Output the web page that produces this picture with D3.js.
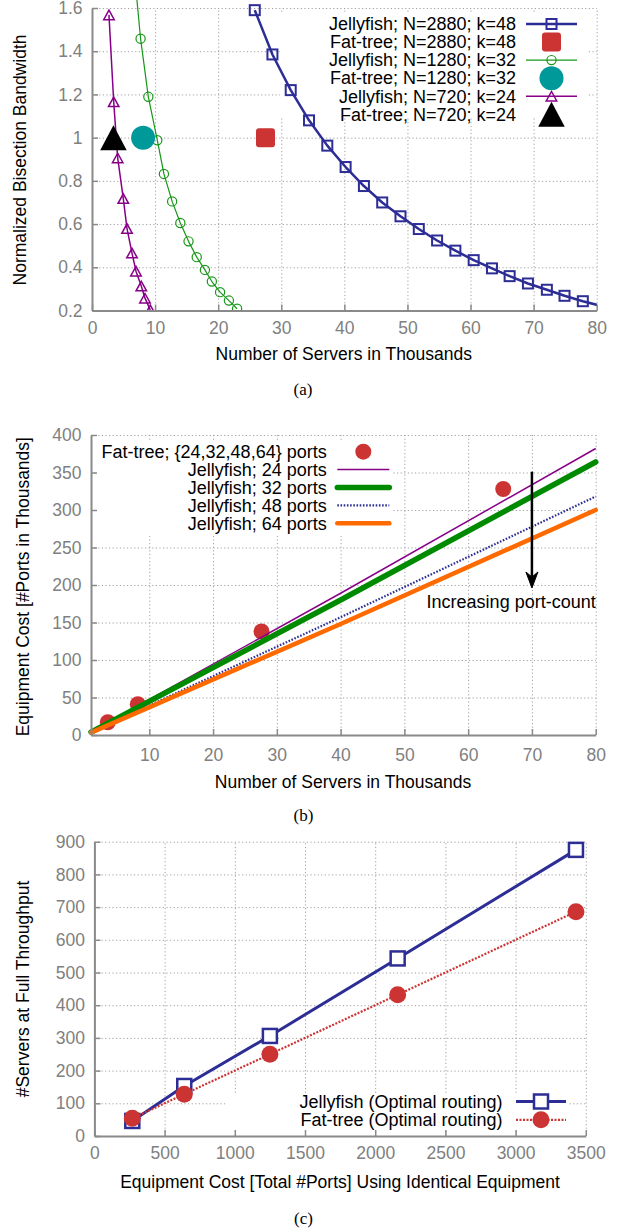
<!DOCTYPE html>
<html>
<head>
<meta charset="utf-8">
<script src="https://cdn.jsdelivr.net/npm/d3@7"></script>
<style>
body { margin: 0; background: #fff; }
svg { display: block; font-family: "Liberation Sans", Arial, Helvetica, sans-serif; }
.grid line { stroke: #a0a0a0; stroke-width: 1; stroke-dasharray: 1.2,2.4; }
.axis .domain { stroke: #8a8a8a; stroke-width: 2; }
.axis line { stroke: #8a8a8a; stroke-width: 1.5; }
.axis text { fill: #808080; font-size: 17.5px; font-family: "Liberation Sans", Arial, sans-serif; }
.title { fill: #000; font-size: 17.5px; }
.legend { fill: #000; font-size: 18px; }
.caption { font-family: "Liberation Serif", "Times New Roman", serif; font-size: 17px; }
</style>
</head>
<body>
<script>
// ---------- (a) normalized bisection bandwidth ----------
var aXTicks = [0, 10, 20, 30, 40, 50, 60, 70, 80];
var aYTicks = [0.2, 0.4, 0.6, 0.8, 1, 1.2, 1.4, 1.6];
var aLabels = ["Jellyfish; N=2880; k=48", "Fat-tree; N=2880; k=48",
               "Jellyfish; N=1280; k=32", "Fat-tree; N=1280; k=32",
               "Jellyfish; N=720; k=24", "Fat-tree; N=720; k=24"];
var aJf48X = [25.8, 28.6, 31.5, 34.4, 37.3, 40.2, 43.1, 46.0, 48.9, 51.8, 54.7, 57.6, 60.5, 63.4, 66.2, 69.1, 72.1, 74.9, 77.8, 80.7];
var aJf48Y = [1.59, 1.385, 1.22, 1.08, 0.963, 0.864, 0.776, 0.70, 0.636, 0.577, 0.524, 0.477, 0.433, 0.395, 0.359, 0.325, 0.296, 0.268, 0.243, 0.221];
var aJf32X = [6.4, 7.7, 8.93, 10.35, 11.4, 12.7, 14.0, 15.3, 16.6, 17.9, 19.0, 20.3, 21.7, 23.0];
var aJf32Y = [1.86, 1.458, 1.189, 0.988, 0.832, 0.705, 0.605, 0.52, 0.447, 0.388, 0.334, 0.285, 0.246, 0.208];
var aJf24X = [2.69, 3.44, 4.07, 4.96, 5.55, 6.34, 6.97, 7.81, 8.4, 9.24];
var aJf24Y = [1.568, 1.166, 0.906, 0.718, 0.579, 0.466, 0.382, 0.313, 0.257, 0.203];
var aFtX = [27.5, 8.1, 3.4];   // k=48, k=32, k=24
var aFtY = [1, 1, 1];

// ---------- (b) equipment cost ----------
var bXTicks = [10, 20, 30, 40, 50, 60, 70, 80];
var bYTicks = [0, 50, 100, 150, 200, 250, 300, 350, 400];
var bLabels = ["Fat-tree; {24,32,48,64} ports", "Jellyfish; 24 ports", "Jellyfish; 32 ports",
               "Jellyfish; 48 ports", "Jellyfish; 64 ports"];
var bFtX = [3.5, 8.2, 27.6, 65.5];
var bFtY = [17, 41, 138, 328];
var bJfX = [0.86, 40, 80];
var bJf24 = [4.1, 189, 382];
var bJf32 = [3.9, 180, 364];
var bJf48 = [3.4, 157, 318];
var bJf64 = [3.2, 148, 300];

// ---------- (c) servers at full throughput ----------
var cXTicks = [0, 500, 1000, 1500, 2000, 2500, 3000, 3500];
var cYTicks = [0, 100, 200, 300, 400, 500, 600, 700, 800, 900];
var cLabels = ["Jellyfish (Optimal routing)", "Fat-tree (Optimal routing)"];
var cCost = [270, 640, 1250, 2160, 3430];
var cJf = [46, 153, 306, 543, 875];
var cFt = [54, 128, 250, 432, 686];

var BLUE = "#2d2d96", RED = "#cc3333", GREEN_A = "#179617", TEAL = "#009999",
    PURPLE = "#880088", GREEN_B = "#008a00", ORANGE = "#ff6a00";

var svg = d3.select("body").append("svg")
    .attr("width", 618)
    .attr("height", 1230);

svg.append("rect").attr("width", 618).attr("height", 1230).attr("fill", "#fff");

function tri(cx, cy, w, h) {
    return "M" + (cx - w / 2) + "," + (cy + h / 2) + "L" + (cx + w / 2) + "," + (cy + h / 2) +
        "L" + cx + "," + (cy - h / 2) + "Z";
}

function mark(g, type, cx, cy) {
    if (type == "sqOpen") {
        g.append("rect").attr("x", cx - 5).attr("y", cy - 5).attr("width", 10).attr("height", 10)
            .attr("fill", "none").attr("stroke", BLUE).attr("stroke-width", 2);
    } else if (type == "sqRed") {
        g.append("rect").attr("x", cx - 9.5).attr("y", cy - 9.5).attr("width", 19).attr("height", 19)
            .attr("rx", 3).attr("fill", RED);
    } else if (type == "circOpen") {
        g.append("circle").attr("cx", cx).attr("cy", cy).attr("r", 4.6)
            .attr("fill", "none").attr("stroke", GREEN_A).attr("stroke-width", 1.2);
    } else if (type == "circTeal") {
        g.append("circle").attr("cx", cx).attr("cy", cy).attr("r", 12).attr("fill", TEAL);
    } else if (type == "triOpen") {
        g.append("path").attr("d", tri(cx, cy, 10.5, 9.5))
            .attr("fill", "none").attr("stroke", PURPLE).attr("stroke-width", 1.5);
    } else if (type == "triBlack") {
        g.append("path").attr("d", tri(cx, cy, 26.5, 25)).attr("fill", "#000");
    } else if (type == "dotRed") {
        g.append("circle").attr("cx", cx).attr("cy", cy).attr("r", 8).attr("fill", RED);
    } else if (type == "sqOpenC") {
        g.append("rect").attr("x", cx - 7).attr("y", cy - 7).attr("width", 14).attr("height", 14)
            .attr("fill", "#fff").attr("stroke", BLUE).attr("stroke-width", 2.5);
    } else if (type == "dotRedC") {
        g.append("circle").attr("cx", cx).attr("cy", cy).attr("r", 8.5).attr("fill", RED);
    }
}

// grid + opaque key box for one panel
function frame(x, y, o) {
    var y0 = y.range()[0], y1 = y.range()[1];
    var x0 = x.range()[0], x1 = x.range()[1];

    svg.append("g").attr("class", "grid")
        .attr("transform", "translate(0," + y0 + ")")
        .call(d3.axisBottom(x).tickValues(o.xGrid).tickSize(-(y0 - y1)).tickFormat(""))
        .call(function(s) { s.select(".domain").remove(); });

    svg.append("g").attr("class", "grid")
        .attr("transform", "translate(" + x0 + ",0)")
        .call(d3.axisLeft(y).tickValues(o.yGrid).tickSize(-(x1 - x0)).tickFormat(""))
        .call(function(s) { s.select(".domain").remove(); });

    if (o.box) {
        svg.append("rect").attr("x", o.box[0]).attr("y", o.box[1])
            .attr("width", o.box[2]).attr("height", o.box[3]).attr("fill", "#fff");
    }
}

function axes(x, y, o) {
    var y0 = y.range()[0], x0 = x.range()[0];
    svg.append("g").attr("class", "axis")
        .attr("transform", "translate(0," + y0 + ")")
        .call(d3.axisBottom(x).tickValues(o.xTicks).tickSizeInner(-6).tickSizeOuter(0)
            .tickPadding(o.xPad).tickFormat(o.xFmt || String));

    svg.append("g").attr("class", "axis")
        .attr("transform", "translate(" + x0 + ",0)")
        .call(d3.axisLeft(y).tickValues(o.yTicks).tickSizeInner(-6).tickSizeOuter(0)
            .tickPadding(9.5).tickFormat(o.yFmt || String));

    svg.append("text").attr("class", "title")
        .attr("x", o.xTitle[0]).attr("y", o.xTitle[1]).attr("dy", "0.35em")
        .attr("text-anchor", "middle").text(o.xTitle[2]);

    svg.append("text").attr("class", "title")
        .attr("transform", "translate(" + o.yTitle[0] + "," + o.yTitle[1] + ") rotate(-90)")
        .attr("dy", "0.35em")
        .attr("text-anchor", "middle").text(o.yTitle[2]);

    svg.append("text").attr("class", "caption")
        .attr("x", o.caption[0]).attr("y", o.caption[1]).attr("dy", "0.35em")
        .attr("text-anchor", "middle").text(o.caption[2]);
}

function series(g, x, y, xs, ys, style, markType) {
    var pts = d3.zip(xs, ys);
    if (style) {
        var p = g.append("path")
            .attr("d", d3.line().x(function(d) { return x(d[0]); }).y(function(d) { return y(d[1]); })(pts))
            .attr("fill", "none")
            .attr("stroke", style.color)
            .attr("stroke-width", style.width)
            .attr("stroke-linejoin", "round");
        if (style.dash) p.attr("stroke-dasharray", style.dash);
        if (style.cap) p.attr("stroke-linecap", style.cap);
    }
    if (markType) {
        var xd = x.domain(), yd = y.domain();
        pts.forEach(function(d) {
            if (d[0] >= xd[0] && d[0] <= xd[1] && d[1] >= yd[0] && d[1] <= yd[1]) {
                mark(g, markType, x(d[0]), y(d[1]));
            }
        });
    }
}

function legendRow(textX, cy, label, sample, style, markType) {
    svg.append("text").attr("class", "legend")
        .attr("x", textX).attr("y", cy).attr("dy", "0.35em")
        .attr("text-anchor", "end").text(label);
    if (style) {
        var l = svg.append("line").attr("x1", sample[0]).attr("x2", sample[1])
            .attr("y1", cy).attr("y2", cy)
            .attr("stroke", style.color).attr("stroke-width", style.width);
        if (style.dash) l.attr("stroke-dasharray", style.dash);
        if (style.cap) l.attr("stroke-linecap", style.cap);
    }
    if (markType) mark(svg, markType, (sample[0] + sample[1]) / 2, cy);
}

// ================= panel (a) =================
var ax = d3.scaleLinear().domain([0, 80]).range([92, 596.7]);
var ay = d3.scaleLinear().domain([0.2, 1.6]).range([310.5, 8]);

frame(ax, ay, { xGrid: aXTicks.slice(1), yGrid: aYTicks.slice(1), box: [280, 12, 307, 106] });

svg.append("clipPath").attr("id", "clipA")
    .append("rect").attr("x", 91).attr("y", 0).attr("width", 506).attr("height", 312);
var ga = svg.append("g").attr("clip-path", "url(#clipA)");

var aStyles = [
    { color: BLUE, width: 2.5 }, null,
    { color: GREEN_A, width: 1.2 }, null,
    { color: PURPLE, width: 1.5 }, null
];
var aMarks = ["sqOpen", "sqRed", "circOpen", "circTeal", "triOpen", "triBlack"];

series(ga, ax, ay, aJf48X, aJf48Y, aStyles[0], aMarks[0]);
series(ga, ax, ay, [aFtX[0]], [aFtY[0]], null, aMarks[1]);
series(ga, ax, ay, aJf32X, aJf32Y, aStyles[2], aMarks[2]);
series(ga, ax, ay, [aFtX[1]], [aFtY[1]], null, aMarks[3]);
series(ga, ax, ay, aJf24X, aJf24Y, aStyles[4], aMarks[4]);
series(ga, ax, ay, [aFtX[2]], [aFtY[2]], null, aMarks[5]);

axes(ax, ay, {
    xTicks: aXTicks, yTicks: aYTicks, xPad: 11,
    xTitle: [343.8, 354, "Number of Servers in Thousands"],
    yTitle: [20.3, 160, "Normalized Bisection Bandwidth"],
    caption: [303, 389, "(a)"]
});

aLabels.forEach(function(lab, i) {
    legendRow(516, 24 + i * 18.06, lab, [526, 577], aStyles[i], aMarks[i]);
});

// ================= panel (b) =================
var bx = d3.scaleLinear().domain([0.86, 80]).range([91, 595.7]);
var by = d3.scaleLinear().domain([0, 400]).range([735, 435]);

frame(bx, by, { xGrid: bXTicks, yGrid: bYTicks.slice(1), box: [96, 440, 296, 96] });

var bStyles = [
    null,
    { color: PURPLE, width: 1.5 },
    { color: GREEN_B, width: 5.5, cap: "round" },
    { color: BLUE, width: 2.2, dash: "1.6,1.6" },
    { color: ORANGE, width: 4.5, cap: "round" }
];
var bMarks = ["dotRed", null, null, null, null];

var gb = svg.append("g");
series(gb, bx, by, bFtX, bFtY, null, "dotRed");
series(gb, bx, by, bJfX, bJf24, bStyles[1], null);
series(gb, bx, by, bJfX, bJf32, bStyles[2], null);
series(gb, bx, by, bJfX, bJf48, bStyles[3], null);
series(gb, bx, by, bJfX, bJf64, bStyles[4], null);

// arrow: increasing port-count
var arrX = bx(70), arrTop = by(351), arrTip = by(196);
gb.append("line").attr("x1", arrX).attr("x2", arrX).attr("y1", arrTop).attr("y2", arrTip - 8)
    .attr("stroke", "#000").attr("stroke-width", 2.5);
gb.append("path")
    .attr("d", "M" + arrX + "," + arrTip + "L" + (arrX - 6) + "," + (arrTip - 16) +
        "L" + arrX + "," + (arrTip - 11) + "L" + (arrX + 6) + "," + (arrTip - 16) + "Z")
    .attr("fill", "#000").attr("stroke", "#000").attr("stroke-width", 1);
svg.append("text").attr("class", "legend")
    .attr("x", bx(80)).attr("y", by(178)).attr("dy", "0.35em")
    .attr("text-anchor", "end").text("Increasing port-count");

axes(bx, by, {
    xTicks: bXTicks, yTicks: bYTicks, xPad: 13.5,
    xTitle: [343, 781.7, "Number of Servers in Thousands"],
    yTitle: [22.5, 586.7, "Equipment Cost [#Ports in Thousands]"],
    caption: [303.5, 815, "(b)"]
});

bLabels.forEach(function(lab, i) {
    legendRow(326.7, 451.7 + i * 17.9, lab, [337.3, 389.3], bStyles[i], bMarks[i]);
});

// ================= panel (c) =================
var cx = d3.scaleLinear().domain([0, 3500]).range([94.4, 585.8]);
var cy = d3.scaleLinear().domain([0, 900]).range([1136, 841.7]);

frame(cx, cy, { xGrid: cXTicks.slice(1), yGrid: cYTicks.slice(1), box: [225, 1093, 343, 38] });

var cStyles = [
    { color: BLUE, width: 3 },
    { color: RED, width: 2.2, dash: "2,1.5" }
];
var cMarks = ["sqOpenC", "dotRedC"];

var gc = svg.append("g");
series(gc, cx, cy, cCost, cJf, cStyles[0], cMarks[0]);
series(gc, cx, cy, cCost, cFt, cStyles[1], cMarks[1]);

axes(cx, cy, {
    xTicks: cXTicks, yTicks: cYTicks, xPad: 11,
    xTitle: [340, 1181.7, "Equipment Cost [Total #Ports] Using Identical Equipment"],
    yTitle: [22.7, 989, "#Servers at Full Throughput"],
    caption: [303.5, 1218, "(c)"]
});

cLabels.forEach(function(lab, i) {
    legendRow(502.5, 1101.5 + i * 18.3, lab, [516, 566], cStyles[i], cMarks[i]);
});
</script>
</body>
</html>
